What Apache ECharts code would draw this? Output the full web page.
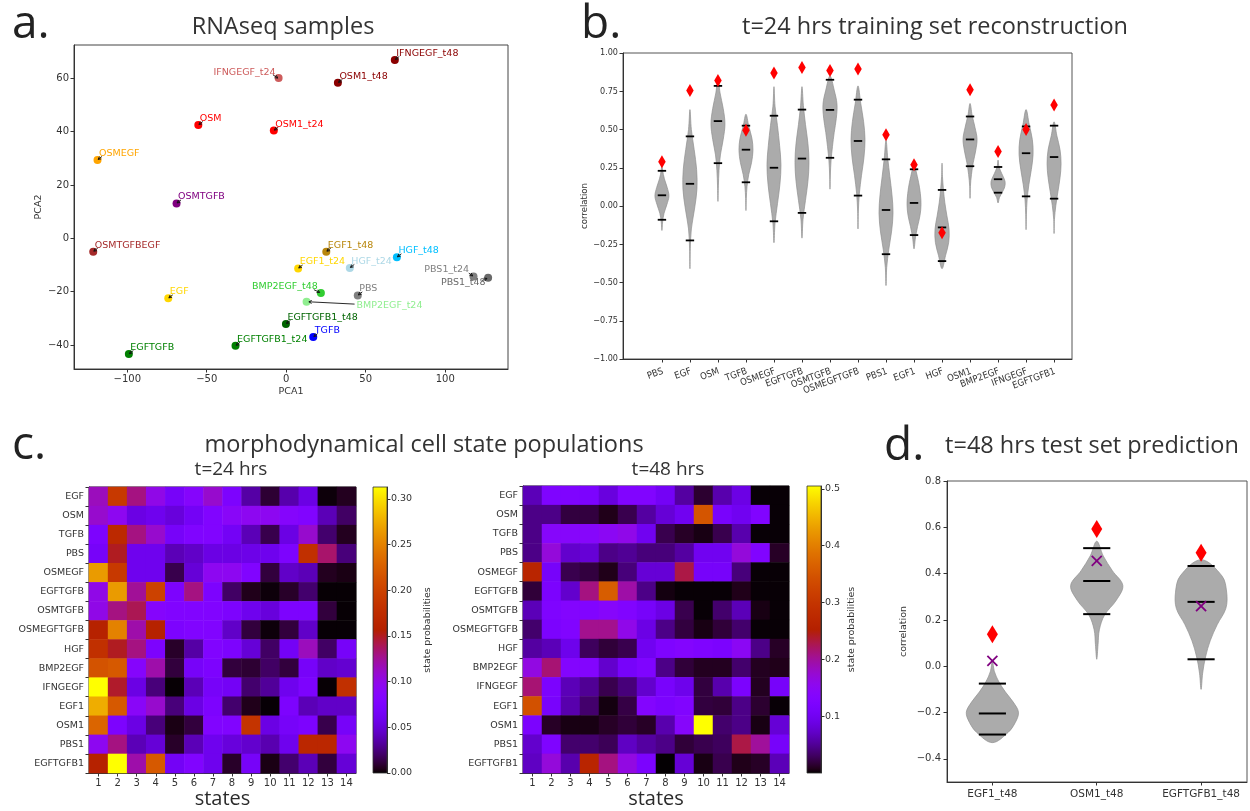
<!DOCTYPE html>
<html>
<head>
<meta charset="utf-8">
<title>Morphodynamical cell states and RNAseq reconstruction</title>
<script src="https://cdn.jsdelivr.net/npm/echarts@6.0.0/dist/echarts.min.js"></script>
<style>
html,body{margin:0;padding:0;background:#fff;}
#chart{width:1250px;height:811px;}
</style>
</head>
<body>
<div id="chart"></div>
<script>
// ---------- a. PCA of RNAseq samples ----------
const pcaNames = ['IFNGEGF_t48','IFNGEGF_t24','OSM1_t48','OSM','OSM1_t24','OSMEGF','OSMTGFB','OSMTGFBEGF',
  'EGF1_t48','HGF_t48','EGF1_t24','HGF_t24','PBS1_t24','PBS1_t48','EGF','BMP2EGF_t48','PBS','BMP2EGF_t24',
  'EGFTGFB1_t48','TGFB','EGFTGFB1_t24','EGFTGFB'];
const pcaX = [68.3,-4.8,32.5,-55.3,-7.8,-118.7,-69.0,-121.4,25.2,69.6,7.5,40.0,117.8,127.0,-74.2,21.8,45.0,12.8,-0.2,17.0,-31.9,-99.0];
const pcaY = [66.9,60.1,58.3,42.5,40.4,29.4,13.1,-5.0,-5.0,-7.1,-11.3,-11.1,-14.3,-14.8,-22.5,-20.5,-21.4,-23.8,-32.1,-37.0,-40.3,-43.4];
const pcaTicksX = [-100,-50,0,50,100];
const pcaTicksY = [-40,-20,0,20,40,60];

// ---------- b. t=24 hrs training set reconstruction ----------
const trainNames = ['PBS','EGF','OSM','TGFB','OSMEGF','EGFTGFB','OSMTGFB','OSMEGFTGFB','PBS1','EGF1','HGF','OSM1','BMP2EGF','IFNGEGF','EGFTGFB1'];
const trainMin  = [-0.16,-0.41,0.03,-0.03,-0.24,-0.21,0.11,-0.15,-0.52,-0.28,-0.41,0.05,0.02,-0.155,-0.18];
const trainMax  = [0.29,0.63,0.84,0.60,0.78,0.78,0.85,0.785,0.43,0.30,0.28,0.67,0.30,0.63,0.55];
const trainLow  = [-0.09,-0.225,0.28,0.155,-0.10,-0.045,0.315,0.068,-0.315,-0.19,-0.36,0.26,0.087,0.063,0.048];
const trainMed  = [0.07,0.145,0.555,0.368,0.25,0.31,0.628,0.425,-0.026,0.02,-0.14,0.435,0.175,0.345,0.32];
const trainHigh = [0.23,0.455,0.785,0.525,0.59,0.63,0.825,0.695,0.305,0.24,0.105,0.585,0.255,0.52,0.525];
const trainObserved = [0.29,0.755,0.82,0.495,0.87,0.905,0.885,0.895,0.465,0.27,-0.175,0.76,0.357,0.50,0.66];
// relative violin width at 9 evenly spaced levels from min to max
const trainProfile = [
  [0,0.1,0.3,0.7,1.0,0.75,0.35,0.1,0],
  [0,0.05,0.2,0.65,1.0,0.95,0.6,0.2,0],
  [0,0.06,0.15,0.35,0.75,1.0,0.75,0.3,0],
  [0,0.05,0.15,0.4,0.8,1.0,0.85,0.4,0],
  [0,0.15,0.5,0.85,1.0,0.8,0.5,0.15,0],
  [0,0.15,0.5,0.85,1.0,0.85,0.5,0.2,0],
  [0,0.05,0.15,0.35,0.6,0.9,1.0,0.6,0],
  [0,0.05,0.2,0.5,0.85,1.0,0.8,0.4,0],
  [0,0.1,0.4,0.8,1.0,0.85,0.55,0.25,0],
  [0,0.2,0.5,0.85,1.0,0.9,0.65,0.3,0],
  [0,0.5,0.95,1.0,0.7,0.4,0.2,0.06,0],
  [0,0.05,0.2,0.45,0.8,1.0,0.7,0.3,0],
  [0,0.2,0.6,0.95,1.0,0.7,0.35,0.1,0],
  [0,0.05,0.15,0.4,0.75,1.0,0.9,0.45,0],
  [0,0.05,0.25,0.55,0.85,1.0,0.85,0.4,0]
];

// ---------- c. morphodynamical cell state populations ----------
const conditions = ['EGF','OSM','TGFB','PBS','OSMEGF','EGFTGFB','OSMTGFB','OSMEGFTGFB','HGF','BMP2EGF','IFNGEGF','EGF1','OSM1','PBS1','EGFTGFB1'];
const states = ['1','2','3','4','5','6','7','8','9','10','11','12','13','14'];
const pop24 = [
  [0.115,0.19,0.13,0.10,0.068,0.085,0.11,0.075,0.035,0.01,0.037,0.055,0.002,0.006],
  [0.11,0.095,0.055,0.06,0.052,0.065,0.08,0.09,0.095,0.095,0.085,0.08,0.04,0.02],
  [0.075,0.17,0.13,0.11,0.068,0.078,0.08,0.065,0.04,0.015,0.055,0.11,0.022,0.006],
  [0.068,0.15,0.06,0.06,0.04,0.045,0.055,0.055,0.057,0.06,0.075,0.18,0.135,0.025],
  [0.265,0.19,0.06,0.06,0.015,0.05,0.095,0.095,0.08,0.012,0.045,0.04,0.006,0.004],
  [0.10,0.265,0.125,0.20,0.075,0.13,0.075,0.02,0.005,0.002,0.008,0.022,0.001,0.001],
  [0.10,0.13,0.14,0.085,0.08,0.08,0.08,0.075,0.06,0.052,0.075,0.075,0.012,0.001],
  [0.16,0.25,0.12,0.16,0.075,0.08,0.08,0.045,0.012,0.002,0.012,0.045,0.001,0.001],
  [0.18,0.15,0.13,0.075,0.008,0.035,0.08,0.075,0.05,0.02,0.065,0.115,0.02,0.068],
  [0.215,0.22,0.085,0.12,0.012,0.068,0.075,0.012,0.01,0.02,0.012,0.068,0.045,0.048],
  [0.313,0.148,0.055,0.025,0.001,0.04,0.068,0.065,0.022,0.032,0.06,0.075,0.001,0.18],
  [0.275,0.22,0.09,0.11,0.025,0.055,0.075,0.022,0.005,0.001,0.075,0.04,0.045,0.045],
  [0.23,0.075,0.055,0.025,0.004,0.012,0.08,0.08,0.185,0.055,0.068,0.075,0.015,0.068],
  [0.095,0.13,0.04,0.05,0.008,0.04,0.06,0.052,0.047,0.038,0.06,0.168,0.168,0.095],
  [0.16,0.313,0.12,0.22,0.065,0.08,0.06,0.008,0.068,0.004,0.022,0.04,0.012,0.05]
];
const pop48 = [
  [0.065,0.125,0.125,0.12,0.085,0.13,0.13,0.105,0.055,0.015,0.06,0.09,0.002,0.002],
  [0.045,0.045,0.02,0.02,0.008,0.025,0.055,0.08,0.10,0.35,0.115,0.10,0.13,0.002],
  [0.045,0.14,0.14,0.14,0.15,0.16,0.10,0.025,0.012,0.006,0.025,0.06,0.002,0.002],
  [0.045,0.17,0.075,0.08,0.045,0.05,0.04,0.04,0.055,0.10,0.10,0.17,0.13,0.012],
  [0.265,0.11,0.025,0.02,0.008,0.04,0.08,0.08,0.23,0.11,0.11,0.04,0.002,0.002],
  [0.018,0.12,0.075,0.21,0.36,0.195,0.045,0.005,0.002,0.002,0.002,0.008,0.002,0.002],
  [0.065,0.125,0.135,0.13,0.14,0.13,0.11,0.09,0.025,0.002,0.035,0.065,0.006,0.002],
  [0.035,0.12,0.13,0.205,0.205,0.16,0.09,0.045,0.02,0.006,0.018,0.035,0.002,0.002],
  [0.055,0.065,0.095,0.03,0.018,0.025,0.10,0.125,0.135,0.125,0.12,0.15,0.045,0.012],
  [0.165,0.215,0.135,0.135,0.075,0.11,0.125,0.045,0.018,0.01,0.01,0.035,0.01,0.008],
  [0.215,0.12,0.065,0.05,0.025,0.04,0.075,0.115,0.095,0.02,0.06,0.12,0.01,0.11],
  [0.345,0.115,0.06,0.035,0.005,0.022,0.135,0.12,0.13,0.02,0.018,0.045,0.015,0.002],
  [0.12,0.012,0.006,0.006,0.012,0.018,0.012,0.06,0.14,0.505,0.035,0.045,0.006,0.08],
  [0.075,0.125,0.035,0.035,0.028,0.07,0.055,0.045,0.018,0.025,0.03,0.23,0.20,0.11],
  [0.07,0.17,0.06,0.265,0.21,0.165,0.12,0.001,0.08,0.006,0.025,0.008,0.012,0.065]
];
const scale24 = {max: 0.313, ticks: [0,0.05,0.10,0.15,0.20,0.25,0.30]};
const scale48 = {max: 0.505, ticks: [0.1,0.2,0.3,0.4,0.5]};

// ---------- d. t=48 hrs test set prediction ----------
const testNames = ['EGF1_t48','OSM1_t48','EGFTGFB1_t48'];
const testMin  = [-0.33,0.03,-0.10];
const testMax  = [0.02,0.54,0.46];
const testLow  = [-0.295,0.225,0.03];
const testMed  = [-0.204,0.368,0.278];
const testHigh = [-0.075,0.51,0.433];
const testObserved  = [0.138,0.593,0.49];
const testPredicted = [0.023,0.455,0.26];
const testProfile = [
  [0,0.6,0.88,1.0,0.8,0.5,0.25,0.08,0],
  [0,0.05,0.1,0.3,0.75,1.0,0.6,0.25,0],
  [0,0.06,0.17,0.35,0.62,0.95,0.98,0.8,0]
];
const testTicksY = [-0.4,-0.2,0.0,0.2,0.4,0.6,0.8];

// ---------- styling ----------
const pcaColors = {
  IFNGEGF_t48:'#8b0000', IFNGEGF_t24:'#cd5c5c', OSM1_t48:'#8b0000', OSM:'#ff0000', OSM1_t24:'#ff0000',
  OSMEGF:'#ffa500', OSMTGFB:'#800080', OSMTGFBEGF:'#a52a2a', EGF1_t48:'#b8860b', HGF_t48:'#00bfff',
  EGF1_t24:'#ffd700', HGF_t24:'#add8e6', PBS1_t24:'#808080', PBS1_t48:'#696969', EGF:'#ffd700',
  BMP2EGF_t48:'#32cd32', PBS:'#808080', BMP2EGF_t24:'#90ee90', EGFTGFB1_t48:'#006400', TGFB:'#0000ff',
  EGFTGFB1_t24:'#008000', EGFTGFB:'#008000'
};
// label offset (px) from the marker, and arrow tail/head offsets
const placeDefault = {dx:1.5, dy:-6.5, align:'left', tail:[4.5,-3.5], head:[0.6,-0.5]};
const pcaPlacement = {
  IFNGEGF_t24: {dx:-3, dy:-6, align:'right', tail:[-5.7,-3.3], head:[-0.8,0]},
  PBS1_t24:    {dx:-4.5, dy:-6.5, align:'right', tail:[-4.7,-3.3], head:[-0.8,-0.6]},
  PBS1_t48:    {dx:-2.5, dy:5, align:'right', tail:[-6,2.7], head:[-1.2,0.6]},
  BMP2EGF_t48: {dx:-3, dy:-6.5, align:'right', tail:[-7,-3.3], head:[-1.2,-0.6]},
  BMP2EGF_t24: {dx:50, dy:3.7, align:'left', tail:[48,2.3], head:[2.3,0]}
};

const AXC = '#333';
const FONT = '"DejaVu Sans", sans-serif';
const NARROW = '"DejaVu Sans Condensed", "Liberation Sans Narrow", "DejaVu Sans", sans-serif';
const TFONT = '"Open Sans", "Lato", sans-serif';
const minus = v => (v < 0 ? '\u2212' : '') + Math.abs(v);

// matplotlib "gnuplot" colormap
function gnuplot(t) {
  const r = Math.sqrt(t), g = t * t * t, b = Math.max(0, Math.min(1, Math.sin(2 * Math.PI * t)));
  const h = x => Math.round(x * 255).toString(16).padStart(2, '0');
  return '#' + h(r) + h(g) + h(b);
}
const cmap = [];
for (let k = 0; k <= 64; k++) cmap.push(gnuplot(k / 64));
const cmapStops = cmap.map((c, k) => ({offset: k / 64, color: c}));

// ---------- render helpers ----------
function violinBody(mins, maxs, profiles, half, fill, stroke) {
  return function (params, api) {
    const i = params.dataIndex;
    const x = api.value(0), lo = mins[i], hi = maxs[i];
    const p = profiles[i], n = p.length;
    const right = [], left = [];
    for (let k = 0; k < n; k++) {
      const y = lo + (hi - lo) * k / (n - 1);
      right.push(api.coord([x + half * p[k], y]));
      left.push(api.coord([x - half * p[k], y]));
    }
    const pts = right.slice();
    for (let k = n - 2; k >= 1; k--) pts.push(left[k]);
    return {type: 'polygon', shape: {points: pts, smooth: 0.35},
      style: {fill: fill, stroke: stroke, lineWidth: 0.7}};
  };
}
function quantileLines(lows, meds, highs, half, lw) {
  return function (params, api) {
    const i = params.dataIndex, x = api.value(0);
    const kids = [lows[i], meds[i], highs[i]].map(v => {
      const a = api.coord([x - half, v]), b = api.coord([x + half, v]);
      return {type: 'line', shape: {x1: a[0], y1: a[1], x2: b[0], y2: b[1]},
        style: {stroke: '#000', lineWidth: lw}};
    });
    return {type: 'group', children: kids};
  };
}
function colorbarItem(vmax) {
  return function (params, api) {
    const tl = api.coord([0, vmax]), br = api.coord([1, 0]);
    return {type: 'rect', shape: {x: tl[0], y: tl[1], width: br[0] - tl[0], height: br[1] - tl[1]},
      style: {fill: new echarts.graphic.LinearGradient(0, 1, 0, 0, cmapStops), stroke: '#333', lineWidth: 0.8}};
  };
}
function heatData(mat) {
  const out = [];
  mat.forEach((row, r) => row.forEach((v, c) => out.push([c, r, v])));
  return out;
}
function txt(text, x, y, size, align, color) {
  return {type: 'text', x: x, y: y, silent: true,
    style: {text: text, font: size + 'px ' + TFONT, fill: color || '#2b2b2b',
      align: align || 'center', verticalAlign: 'middle', textAlign: align || 'center', textVerticalAlign: 'middle'}};
}

const baseAxis = {
  axisLine: {show: true, onZero: false, lineStyle: {color: AXC, width: 1}},
  axisTick: {show: true, inside: false, length: 3.5, lineStyle: {color: AXC}},
  axisLabel: {color: AXC, fontFamily: FONT, fontSize: 9.5, hideOverlap: false},
  splitLine: {show: false},
  nameTextStyle: {color: AXC, fontFamily: FONT, fontSize: 9.5}
};
const ax = o => echarts.util.merge(echarts.util.clone(baseAxis), o, true);

const trainPositions = trainNames.map((n, i) => i);
const testPositions = testNames.map((n, i) => i + 1);

const option = {
  backgroundColor: '#fff',
  animation: false,
  textStyle: {fontFamily: FONT},
  grid: [
    {left: 74, top: 45, width: 434, height: 324, show: true, borderColor: '#444', borderWidth: 1},
    {left: 623, top: 53, width: 449, height: 306, show: true, borderColor: '#555', borderWidth: 1},
    {left: 89, top: 487, width: 267, height: 286, show: true, borderColor: '#222', borderWidth: 1},
    {left: 373, top: 487, width: 14, height: 286},
    {left: 523, top: 486, width: 266, height: 287, show: true, borderColor: '#222', borderWidth: 1},
    {left: 807, top: 486, width: 14, height: 287},
    {left: 947, top: 481, width: 300, height: 301, show: true, borderColor: '#555', borderWidth: 1}
  ],
  xAxis: [
    ax({gridIndex: 0, type: 'value', min: -133.5, max: 139.5, name: 'PCA1', nameLocation: 'middle', nameGap: 18,
      axisLabel: {customValues: pcaTicksX, formatter: minus, fontSize: 10, margin: 5}, axisTick: {customValues: pcaTicksX}}),
    // category names for this axis are drawn by the label series below
    ax({gridIndex: 1, type: 'value', min: -1.39, max: 14.64,
      axisLabel: {show: false}, axisTick: {customValues: trainPositions}}),
    ax({gridIndex: 2, type: 'category', data: states, name: 'states', nameLocation: 'middle', nameGap: 13,
      nameTextStyle: {fontFamily: TFONT, fontSize: 20, color: '#2b2b2b'},
      axisTick: {alignWithLabel: true}, axisLabel: {fontSize: 10, margin: 5, interval: 0}}),
    {gridIndex: 3, type: 'value', min: 0, max: 1, show: false},
    ax({gridIndex: 4, type: 'category', data: states, name: 'states', nameLocation: 'middle', nameGap: 13,
      nameTextStyle: {fontFamily: TFONT, fontSize: 20, color: '#2b2b2b'},
      axisTick: {alignWithLabel: true}, axisLabel: {fontSize: 10, margin: 5, interval: 0}}),
    {gridIndex: 5, type: 'value', min: 0, max: 1, show: false},
    ax({gridIndex: 6, type: 'value', min: 0.565, max: 3.44,
      axisLabel: {customValues: testPositions, formatter: v => testNames[Math.round(v) - 1], fontSize: 10.5, margin: 7,
        showMinLabel: true, showMaxLabel: true},
      axisTick: {customValues: testPositions}})
  ],
  yAxis: [
    ax({gridIndex: 0, type: 'value', min: -49, max: 72.5, name: 'PCA2', nameLocation: 'middle', nameGap: 30,
      axisLabel: {customValues: pcaTicksY, formatter: minus, fontSize: 10, margin: 5}, axisTick: {customValues: pcaTicksY}}),
    ax({gridIndex: 1, type: 'value', min: -1, max: 1, interval: 0.25, name: 'correlation', nameLocation: 'middle', nameGap: 30,
      nameTextStyle: {fontFamily: NARROW, fontSize: 9.5},
      axisLabel: {formatter: v => (v < 0 ? '\u2212' : '') + Math.abs(v).toFixed(2), fontFamily: NARROW, fontSize: 9, margin: 5,
        showMinLabel: true, showMaxLabel: true}}),
    ax({gridIndex: 2, type: 'category', data: conditions, inverse: true, axisLabel: {fontSize: 9.5, margin: 5, interval: 0}}),
    ax({gridIndex: 3, type: 'value', position: 'right', min: 0, max: scale24.max,
      name: 'state probabilities', nameLocation: 'middle', nameGap: 36, nameRotate: 90,
      axisLabel: {customValues: scale24.ticks, formatter: v => v.toFixed(2), fontSize: 9.5, margin: 4},
      axisTick: {customValues: scale24.ticks}}),
    ax({gridIndex: 4, type: 'category', data: conditions, inverse: true, axisLabel: {fontSize: 9.5, margin: 5, interval: 0}}),
    ax({gridIndex: 5, type: 'value', position: 'right', min: 0, max: scale48.max,
      name: 'state probabilities', nameLocation: 'middle', nameGap: 26, nameRotate: 90,
      axisLabel: {customValues: scale48.ticks, formatter: v => v.toFixed(1), fontSize: 9.5, margin: 4},
      axisTick: {customValues: scale48.ticks}}),
    ax({gridIndex: 6, type: 'value', min: -0.5, max: 0.8, name: 'correlation', nameLocation: 'middle', nameGap: 38,
      axisLabel: {customValues: testTicksY, formatter: v => (v < 0 ? '\u2212' : '') + Math.abs(v).toFixed(1), fontSize: 10, margin: 6},
      axisTick: {customValues: testTicksY}})
  ],
  visualMap: [
    {type: 'continuous', show: false, seriesIndex: 4, min: 0, max: scale24.max, inRange: {color: cmap}},
    {type: 'continuous', show: false, seriesIndex: 6, min: 0, max: scale48.max, inRange: {color: cmap}}
  ],
  series: [
    { // 0: PCA samples with arrow annotations
      type: 'custom', xAxisIndex: 0, yAxisIndex: 0, clip: false,
      data: pcaX.map((x, i) => [x, pcaY[i]]),
      renderItem: function (params, api) {
        const i = params.dataIndex, name = pcaNames[i], col = pcaColors[name];
        const p = api.coord([api.value(0), api.value(1)]);
        const pl = Object.assign({}, placeDefault, pcaPlacement[name] || {});
        const tail = [p[0] + pl.tail[0], p[1] + pl.tail[1]];
        const head = [p[0] + pl.head[0], p[1] + pl.head[1]];
        const ang = Math.atan2(head[1] - tail[1], head[0] - tail[0]);
        const L = 3.2, a = 0.5;
        const h1 = [head[0] - L * Math.cos(ang - a), head[1] - L * Math.sin(ang - a)];
        const h2 = [head[0] - L * Math.cos(ang + a), head[1] - L * Math.sin(ang + a)];
        return {type: 'group', children: [
          {type: 'circle', shape: {cx: p[0], cy: p[1], r: 4}, style: {fill: col}},
          {type: 'polyline', shape: {points: [tail, head]}, style: {stroke: '#111', lineWidth: 0.9, fill: null}},
          {type: 'polyline', shape: {points: [h1, head, h2]}, style: {stroke: '#111', lineWidth: 0.9, fill: null}},
          {type: 'text', x: p[0] + pl.dx, y: p[1] + pl.dy,
            style: {text: name, fill: col, font: '9.5px ' + FONT, align: pl.align, textAlign: pl.align,
              verticalAlign: 'middle', textVerticalAlign: 'middle'}}
        ]};
      }
    },
    { // 1: training violins
      type: 'custom', xAxisIndex: 1, yAxisIndex: 1,
      data: trainPositions.map((x, i) => [x, trainMed[i]]),
      renderItem: violinBody(trainMin, trainMax, trainProfile, 0.25, '#ababab', '#8f8f8f')
    },
    { // 2: training quantile bars
      type: 'custom', xAxisIndex: 1, yAxisIndex: 1,
      data: trainPositions.map((x, i) => [x, trainMed[i]]),
      renderItem: quantileLines(trainLow, trainMed, trainHigh, 0.15, 1.8)
    },
    { // 3: observed correlation (training)
      type: 'scatter', xAxisIndex: 1, yAxisIndex: 1, symbol: 'diamond', symbolSize: [7.5, 13],
      itemStyle: {color: '#ff0000', opacity: 1},
      data: trainPositions.map((x, i) => [x, trainObserved[i]]), z: 5
    },
    { // 4: state populations, t=24
      type: 'heatmap', xAxisIndex: 2, yAxisIndex: 2, data: heatData(pop24),
      itemStyle: {borderWidth: 0}, emphasis: {disabled: true}
    },
    { // 5: colorbar t=24
      type: 'custom', xAxisIndex: 3, yAxisIndex: 3, data: [[0, 0]], silent: true,
      renderItem: colorbarItem(scale24.max)
    },
    { // 6: state populations, t=48
      type: 'heatmap', xAxisIndex: 4, yAxisIndex: 4, data: heatData(pop48),
      itemStyle: {borderWidth: 0}, emphasis: {disabled: true}
    },
    { // 7: colorbar t=48
      type: 'custom', xAxisIndex: 5, yAxisIndex: 5, data: [[0, 0]], silent: true,
      renderItem: colorbarItem(scale48.max)
    },
    { // 8: test violins
      type: 'custom', xAxisIndex: 6, yAxisIndex: 6,
      data: testPositions.map((x, i) => [x, testMed[i]]),
      renderItem: violinBody(testMin, testMax, testProfile, 0.25, '#ababab', '#8f8f8f')
    },
    { // 9: test quantile bars
      type: 'custom', xAxisIndex: 6, yAxisIndex: 6,
      data: testPositions.map((x, i) => [x, testMed[i]]),
      renderItem: quantileLines(testLow, testMed, testHigh, 0.13, 2)
    },
    { // 10: observed correlation (test)
      type: 'scatter', xAxisIndex: 6, yAxisIndex: 6, symbol: 'diamond', symbolSize: [11, 18],
      itemStyle: {color: '#ff0000', opacity: 1},
      data: testPositions.map((x, i) => [x, testObserved[i]]), z: 5
    },
    { // 11: predicted correlation (test)
      type: 'custom', xAxisIndex: 6, yAxisIndex: 6, z: 6,
      data: testPositions.map((x, i) => [x, testPredicted[i]]),
      renderItem: function (params, api) {
        const p = api.coord([api.value(0), api.value(1)]), s = 5;
        return {type: 'group', children: [
          {type: 'line', shape: {x1: p[0] - s, y1: p[1] - s, x2: p[0] + s, y2: p[1] + s}, style: {stroke: '#800080', lineWidth: 1.8}},
          {type: 'line', shape: {x1: p[0] - s, y1: p[1] + s, x2: p[0] + s, y2: p[1] - s}, style: {stroke: '#800080', lineWidth: 1.8}}
        ]};
      }
    },
    { // 12: rotated condition names under the training violins
      type: 'custom', xAxisIndex: 1, yAxisIndex: 1, clip: false, silent: true,
      data: trainPositions.map(x => [x, -1]),
      renderItem: function (params, api) {
        const p = api.coord([api.value(0), api.value(1)]);
        return {type: 'text', x: p[0] + 1, y: p[1] + 12, rotation: 20 * Math.PI / 180,
          style: {text: trainNames[params.dataIndex], fill: AXC, font: '9.5px ' + NARROW,
            align: 'right', textAlign: 'right', verticalAlign: 'middle', textVerticalAlign: 'middle'}};
      }
    }
  ],
  graphic: {elements: [
    txt('a.', 12, 25, 46, 'left', '#222'),
    txt('RNAseq samples', 283, 27, 23.5, 'center', '#333'),
    txt('b.', 581, 25, 46, 'left', '#222'),
    txt('t=24 hrs training set reconstruction', 935, 27, 23.5, 'center', '#333'),
    txt('c.', 12, 446, 46, 'left', '#222'),
    txt('morphodynamical cell state populations', 424, 445, 23.5, 'center', '#333'),
    txt('t=24 hrs', 231, 470, 19, 'center', '#333'),
    txt('t=48 hrs', 668, 470, 19, 'center', '#333'),
    txt('d.', 884, 447, 46, 'left', '#222'),
    txt('t=48 hrs test set prediction', 1092, 446, 23.5, 'center', '#333')
  ]}
};

const chart = echarts.init(document.getElementById('chart'), null, {renderer: 'canvas', width: 1250, height: 811});
chart.setOption(option);
</script>
</body>
</html>
